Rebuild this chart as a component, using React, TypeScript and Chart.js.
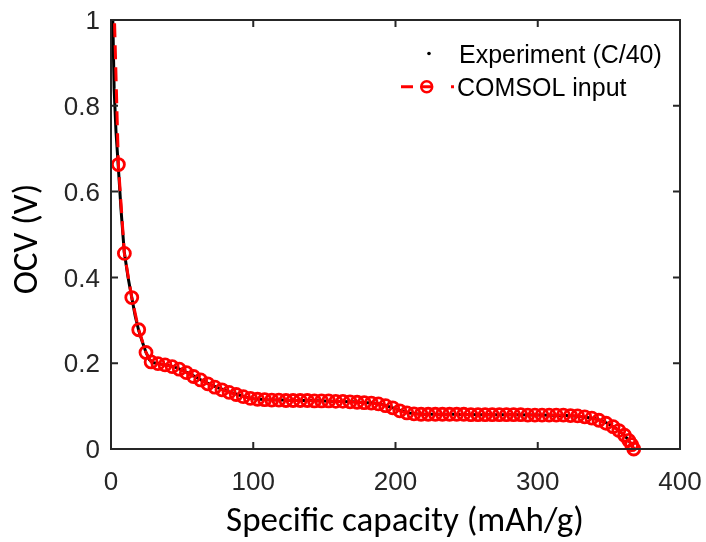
import React, { useEffect, useRef } from 'react';
import { Chart, registerables } from 'chart.js';

Chart.register(...registerables);

// ---- Data ----
const expCapacity = [
  0.8, 2.2, 3.5, 5.0, 7.0, 9.3, 12.0, 14.5, 17.0, 19.5, 22.0, 24.5, 27.0, 30.0,
  35, 40, 45, 50, 55, 60, 65, 70, 75, 80, 85, 90, 95, 100, 110, 120, 130, 140,
  150, 160, 170, 180, 185, 190, 195, 200, 205, 210, 215, 220, 240, 260, 280, 300,
  320, 330, 340, 345, 350, 355, 360, 363, 366, 367.5,
];
const expVoltage = [
  1.08, 0.84, 0.74, 0.665, 0.56, 0.46, 0.40, 0.355, 0.31, 0.276, 0.25, 0.226, 0.208, 0.201,
  0.198, 0.195, 0.191, 0.184, 0.176, 0.167, 0.158, 0.150, 0.143, 0.137, 0.131, 0.126, 0.121, 0.117,
  0.115, 0.114, 0.113, 0.113, 0.112, 0.111, 0.110, 0.108, 0.107, 0.104, 0.099, 0.094, 0.088, 0.084,
  0.082, 0.081, 0.081, 0.080, 0.080, 0.079, 0.078, 0.076, 0.071, 0.066, 0.058, 0.048, 0.035, 0.024,
  0.010, 0.0,
];

const comsolCapacity = [
  0, 5.2, 9.4, 14.6, 19.5, 24.6, 28.2,
  33, 38, 43, 48, 53, 58, 63, 68, 73, 78, 83, 88, 93, 98, 103, 108, 113, 118, 123,
  128, 133, 138, 143, 148, 153, 158, 163, 168, 173, 178, 183, 188, 193, 198, 203,
  208, 213, 218, 223, 228, 233, 238, 243, 248, 253, 258, 263, 268, 273, 278, 283,
  288, 293, 298, 303, 308, 313, 318, 323, 328, 333, 338, 343,
  348, 353, 357, 361, 364, 366, 367.5,
];
const comsolVoltage = [
  1.3, 0.663, 0.456, 0.353, 0.278, 0.225, 0.203,
  0.199, 0.196, 0.192, 0.186, 0.178, 0.169, 0.161, 0.152, 0.144, 0.138, 0.132, 0.127, 0.122, 0.118,
  0.116, 0.115, 0.114, 0.114, 0.113, 0.113, 0.113, 0.113, 0.112, 0.112, 0.112, 0.111, 0.111, 0.110,
  0.109, 0.108, 0.107, 0.105, 0.101, 0.096, 0.089, 0.084, 0.082, 0.081, 0.081, 0.081, 0.081, 0.081,
  0.081, 0.081, 0.080, 0.080, 0.080, 0.080, 0.080, 0.080, 0.080, 0.080, 0.079, 0.079, 0.079, 0.079,
  0.079, 0.079, 0.078, 0.077, 0.075, 0.072, 0.067,
  0.060, 0.052, 0.043, 0.032, 0.020, 0.010, 0.0,
];

const xTicks = [0, 100, 200, 300, 400];
const yTicks = [0, 0.2, 0.4, 0.6, 0.8, 1];
const xTitle = 'Specific capacity (mAh/g)';
const yTitle = 'OCV (V)';
const legendLabels = ['Experiment (C/40)', 'COMSOL input'];

const tickFont = 'Arial, "Liberation Sans", Helvetica, sans-serif';
const titleFont = 'Carlito, Lato, "Open Sans", sans-serif';
const axisColor = '#262626';

function toPoints(xs: number[], ys: number[]) {
  const n = Math.min(xs.length, ys.length);
  const out: { x: number; y: number }[] = [];
  for (let i = 0; i < n; i++) out.push({ x: xs[i], y: ys[i] });
  return out;
}

const boxPlugin = {
  id: 'boxPlugin',
  afterDraw(chart: any) {
    const { ctx, chartArea } = chart;
    const { left, right, top, bottom } = chartArea;
    const xs = chart.scales.x;
    const ys = chart.scales.y;
    ctx.save();
    ctx.strokeStyle = axisColor;
    ctx.lineWidth = 2;
    ctx.setLineDash([]);
    ctx.strokeRect(left, top, right - left, bottom - top);
    const tl = 7;
    ctx.beginPath();
    xTicks.forEach((v) => {
      const px = xs.getPixelForValue(v);
      ctx.moveTo(px, bottom);
      ctx.lineTo(px, bottom - tl);
      ctx.moveTo(px, top);
      ctx.lineTo(px, top + tl);
    });
    yTicks.forEach((v) => {
      const py = ys.getPixelForValue(v);
      ctx.moveTo(left, py);
      ctx.lineTo(left + tl, py);
      ctx.moveTo(right, py);
      ctx.lineTo(right - tl, py);
    });
    ctx.stroke();

    // axis titles
    ctx.fillStyle = '#000';
    ctx.font = `35px ${titleFont}`;
    ctx.textAlign = 'center';
    ctx.textBaseline = 'middle';
    ctx.fillText(xTitle, 405, 522);
    ctx.save();
    ctx.translate(28, 239);
    ctx.rotate(-Math.PI / 2);
    ctx.fillText(yTitle, 0, 0);
    ctx.restore();

    // legend
    ctx.fillStyle = '#000';
    ctx.beginPath();
    ctx.arc(429, 53.5, 1.8, 0, Math.PI * 2);
    ctx.fill();

    ctx.strokeStyle = '#ff0000';
    ctx.lineWidth = 3;
    ctx.beginPath();
    ctx.moveTo(401, 86.7);
    ctx.lineTo(413, 86.7);
    ctx.moveTo(421, 86.7);
    ctx.lineTo(432, 86.7);
    ctx.moveTo(451, 86.7);
    ctx.lineTo(454, 86.7);
    ctx.stroke();
    ctx.lineWidth = 2.5;
    ctx.beginPath();
    ctx.arc(426.7, 86.7, 5.5, 0, Math.PI * 2);
    ctx.stroke();

    ctx.fillStyle = '#000';
    ctx.font = `25px ${tickFont}`;
    ctx.textAlign = 'left';
    ctx.textBaseline = 'alphabetic';
    ctx.fillText(legendLabels[0], 459, 63);
    ctx.fillText(legendLabels[1], 457, 96);
    ctx.restore();
  },
};

export default function App() {
  const ref = useRef<HTMLCanvasElement | null>(null);

  useEffect(() => {
    document.body.style.margin = '0';
    const canvas = ref.current;
    if (!canvas) return;
    const chart = new Chart(canvas, {
      type: 'scatter',
      data: {
        datasets: [
          {
            label: legendLabels[1],
            data: toPoints(comsolCapacity, comsolVoltage),
            showLine: true,
            borderColor: '#ff0000',
            borderWidth: 3,
            borderDash: [14, 8],
            pointRadius: 6,
            pointBorderWidth: 2.8,
            pointBorderColor: '#ff0000',
            pointBackgroundColor: 'rgba(0,0,0,0)',
            order: 1,
            clip: { left: 10, top: 0, right: 10, bottom: false } as any,
          },
          {
            label: legendLabels[0],
            data: toPoints(expCapacity, expVoltage),
            showLine: true,
            borderColor: '#000000',
            borderWidth: 3,
            pointRadius: 0,
            order: 2,
            clip: { left: 10, top: 0, right: 10, bottom: 10 } as any,
          },
        ],
      },
      options: {
        animation: false,
        responsive: false,
        layout: { padding: { top: 20, right: 26, left: 0, bottom: 0 } },
        plugins: { legend: { display: false }, tooltip: { enabled: false } },
        scales: {
          x: {
            type: 'linear',
            min: 0,
            max: 400,
            afterBuildTicks: (s: any) => {
              s.ticks = xTicks.map((v) => ({ value: v }));
            },
            afterFit: (s: any) => {
              s.height = 93;
              s.paddingLeft = 0;
              s.paddingRight = 0;
            },
            grid: { display: false, drawTicks: false },
            border: { display: false },
            ticks: {
              padding: 18,
              color: axisColor,
              font: { family: tickFont, size: 26 },
              maxRotation: 0,
              autoSkip: false,
            },
            title: { display: false, text: xTitle },
          },
          y: {
            type: 'linear',
            min: 0,
            max: 1,
            afterBuildTicks: (s: any) => {
              s.ticks = yTicks.map((v) => ({ value: v }));
            },
            afterFit: (s: any) => {
              s.width = 111;
              s.paddingTop = 0;
              s.paddingBottom = 0;
            },
            grid: { display: false, drawTicks: false },
            border: { display: false },
            ticks: {
              padding: 11,
              labelOffset: 2,
              color: axisColor,
              font: { family: tickFont, size: 26 },
              autoSkip: false,
              callback: (v: any) => String(Math.round(Number(v) * 10) / 10),
            },
            title: { display: false, text: yTitle },
          },
        },
      },
      plugins: [boxPlugin],
    } as any);
    return () => chart.destroy();
  }, []);

  return <canvas ref={ref} width={706} height={542} style={{ display: 'block' }} />;
}
